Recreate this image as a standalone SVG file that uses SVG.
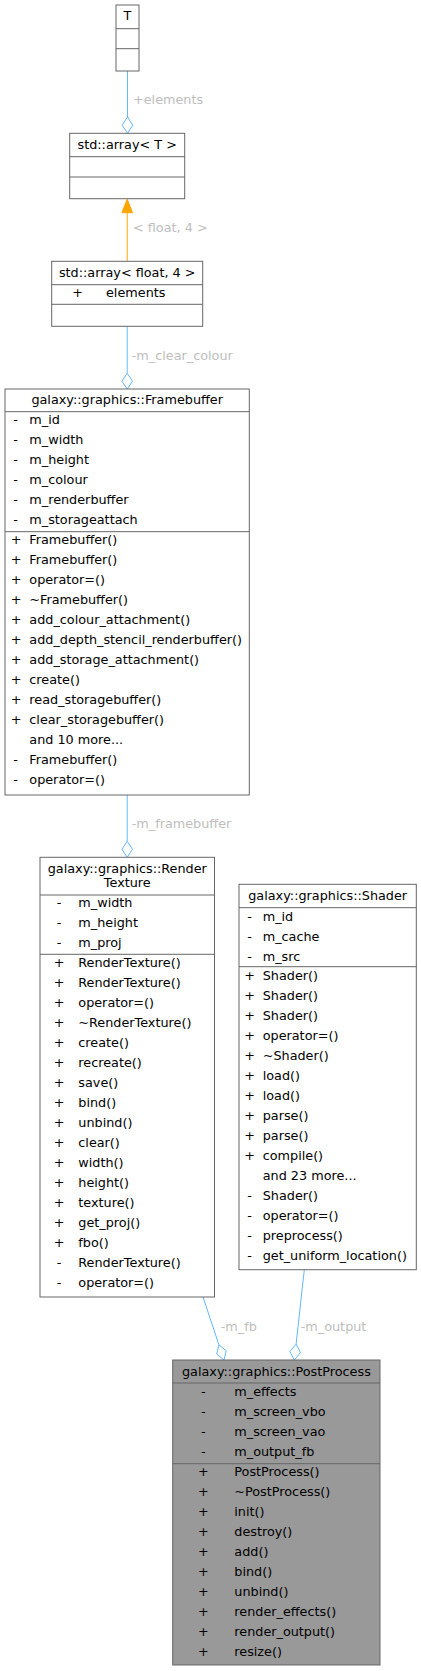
<svg xmlns="http://www.w3.org/2000/svg" width="421" height="1671" viewBox="0 0 421 1671">
<style>
text{font-family:"DejaVu Sans","Liberation Sans",sans-serif;font-size:12.8px;fill:#000}
.box{fill:#fff;stroke:#666;stroke-width:1}
.cur{fill:#999;stroke:#666;stroke-width:1}
.sep{stroke:#666;stroke-width:1}
.c{text-anchor:middle}
.lbl{fill:#bebebe}
.use{fill:none;stroke:#63b8ff;stroke-width:1}
.dia{fill:#fff;stroke:#63b8ff;stroke-width:1}
.inh{fill:none;stroke:#ffa500;stroke-width:1}
.tri{fill:#ffa500;stroke:#ffa500;stroke-width:1}
</style>
<rect width="421" height="1671" fill="#fff"/>
<g id="connectors">
<line class="use" x1="127.5" y1="71" x2="127.5" y2="117"/>
<polygon class="dia" points="127.5,133.3 122.2,125.2 127.5,117 132.8,125.2"/>
<text class="lbl" x="133" y="104.2">+elements</text>
<line class="inh" x1="127.2" y1="261.3" x2="127.2" y2="212.7"/>
<polygon class="tri" points="127.2,199.2 121.9,212.7 132.5,212.7"/>
<text class="lbl" x="133" y="232.2">&lt; float, 4 &gt;</text>
<line class="use" x1="127.2" y1="326.3" x2="127.2" y2="373.3"/>
<polygon class="dia" points="127.2,389 121.9,381.2 127.2,373.3 132.5,381.2"/>
<text class="lbl" x="131.7" y="360.2">-m_clear_colour</text>
<line class="use" x1="127.2" y1="795" x2="127.2" y2="841.3"/>
<polygon class="dia" points="127.2,857.3 121.9,849.3 127.2,841.3 132.5,849.3"/>
<text class="lbl" x="131.7" y="827.8">-m_framebuffer</text>
<line class="use" x1="203" y1="1297" x2="218.9" y2="1344.8"/>
<polygon class="dia" points="224,1360 216.7,1354 218.9,1344.8 226.2,1350.8"/>
<text class="lbl" x="220.7" y="1331.2">-m_fb</text>
<line class="use" x1="304.3" y1="1269.7" x2="296.1" y2="1344.1"/>
<polygon class="dia" points="294.3,1360 289.9,1351.5 296.1,1344.1 300.5,1352.6"/>
<text class="lbl" x="300.7" y="1331.2">-m_output</text>
</g>
<g id="node_T">
<rect class="box" x="116" y="5" width="23" height="66"/>
<line class="sep" x1="116" y1="28.7" x2="139" y2="28.7"/>
<line class="sep" x1="116" y1="48.7" x2="139" y2="48.7"/>
<text class="c" x="127.5" y="20.2">T</text>
</g>
<g id="node_array_T">
<rect class="box" x="69.7" y="133.3" width="115" height="65.4"/>
<line class="sep" x1="69.7" y1="156.7" x2="184.7" y2="156.7"/>
<line class="sep" x1="69.7" y1="177" x2="184.7" y2="177"/>
<text class="c" x="127.2" y="149.2">std::array&lt; T &gt;</text>
</g>
<g id="node_array_float4">
<rect class="box" x="51.7" y="261.3" width="151" height="65"/>
<line class="sep" x1="51.7" y1="284.7" x2="202.7" y2="284.7"/>
<line class="sep" x1="51.7" y1="304.3" x2="202.7" y2="304.3"/>
<text class="c" x="127.2" y="276.8">std::array&lt; float, 4 &gt;</text>
<text class="c" x="77.7" y="296.8">+</text>
<text x="106" y="296.8">elements</text>
</g>
<g id="node_Framebuffer">
<rect class="box" x="5" y="389" width="244.3" height="406"/>
<line class="sep" x1="5" y1="411.7" x2="249.3" y2="411.7"/>
<line class="sep" x1="5" y1="531.7" x2="249.3" y2="531.7"/>
<text class="c" x="127.2" y="404.2">galaxy::graphics::Framebuffer</text>
<text class="c" x="15.6" y="424.2">-</text>
<text class="c" x="15.6" y="444.2">-</text>
<text class="c" x="15.6" y="464.2">-</text>
<text class="c" x="15.6" y="484.2">-</text>
<text class="c" x="15.6" y="504.2">-</text>
<text class="c" x="15.6" y="524.2">-</text>
<text class="c" x="16" y="544.2">+</text>
<text class="c" x="16" y="564.2">+</text>
<text class="c" x="16" y="584.2">+</text>
<text class="c" x="16" y="604.2">+</text>
<text class="c" x="16" y="624.2">+</text>
<text class="c" x="16" y="644.2">+</text>
<text class="c" x="16" y="664.2">+</text>
<text class="c" x="16" y="684.2">+</text>
<text class="c" x="16" y="704.2">+</text>
<text class="c" x="16" y="724.2">+</text>
<text class="c" x="15.6" y="764.2">-</text>
<text class="c" x="15.6" y="784.2">-</text>
<text x="29.3" y="424.2">m_id</text>
<text x="29.3" y="444.2">m_width</text>
<text x="29.3" y="464.2">m_height</text>
<text x="29.3" y="484.2">m_colour</text>
<text x="29.3" y="504.2">m_renderbuffer</text>
<text x="29.3" y="524.2">m_storageattach</text>
<text x="29.3" y="544.2">Framebuffer()</text>
<text x="29.3" y="564.2">Framebuffer()</text>
<text x="29.3" y="584.2">operator=()</text>
<text x="29.3" y="604.2">~Framebuffer()</text>
<text x="29.3" y="624.2">add_colour_attachment()</text>
<text x="29.3" y="644.2">add_depth_stencil_renderbuffer()</text>
<text x="29.3" y="664.2">add_storage_attachment()</text>
<text x="29.3" y="684.2">create()</text>
<text x="29.3" y="704.2">read_storagebuffer()</text>
<text x="29.3" y="724.2">clear_storagebuffer()</text>
<text x="29.3" y="744.2">and 10 more...</text>
<text x="29.3" y="764.2">Framebuffer()</text>
<text x="29.3" y="784.2">operator=()</text>
</g>
<g id="node_RenderTexture">
<rect class="box" x="40" y="857.3" width="174.5" height="439.7"/>
<line class="sep" x1="40" y1="895" x2="214.5" y2="895"/>
<line class="sep" x1="40" y1="954.3" x2="214.5" y2="954.3"/>
<text class="c" x="127.3" y="872.5">galaxy::graphics::Render</text>
<text class="c" x="127.3" y="886.8">Texture</text>
<text class="c" x="59" y="906.8">-</text>
<text class="c" x="59" y="926.8">-</text>
<text class="c" x="59" y="946.8">-</text>
<text class="c" x="59" y="966.8">+</text>
<text class="c" x="59" y="986.8">+</text>
<text class="c" x="59" y="1006.8">+</text>
<text class="c" x="59" y="1026.8">+</text>
<text class="c" x="59" y="1046.8">+</text>
<text class="c" x="59" y="1066.8">+</text>
<text class="c" x="59" y="1086.8">+</text>
<text class="c" x="59" y="1106.8">+</text>
<text class="c" x="59" y="1126.8">+</text>
<text class="c" x="59" y="1146.8">+</text>
<text class="c" x="59" y="1166.8">+</text>
<text class="c" x="59" y="1186.8">+</text>
<text class="c" x="59" y="1206.8">+</text>
<text class="c" x="59" y="1226.8">+</text>
<text class="c" x="59" y="1246.8">+</text>
<text class="c" x="59" y="1266.8">-</text>
<text class="c" x="59" y="1286.8">-</text>
<text x="78.3" y="906.8">m_width</text>
<text x="78.3" y="926.8">m_height</text>
<text x="78.3" y="946.8">m_proj</text>
<text x="78.3" y="966.8">RenderTexture()</text>
<text x="78.3" y="986.8">RenderTexture()</text>
<text x="78.3" y="1006.8">operator=()</text>
<text x="78.3" y="1026.8">~RenderTexture()</text>
<text x="78.3" y="1046.8">create()</text>
<text x="78.3" y="1066.8">recreate()</text>
<text x="78.3" y="1086.8">save()</text>
<text x="78.3" y="1106.8">bind()</text>
<text x="78.3" y="1126.8">unbind()</text>
<text x="78.3" y="1146.8">clear()</text>
<text x="78.3" y="1166.8">width()</text>
<text x="78.3" y="1186.8">height()</text>
<text x="78.3" y="1206.8">texture()</text>
<text x="78.3" y="1226.8">get_proj()</text>
<text x="78.3" y="1246.8">fbo()</text>
<text x="78.3" y="1266.8">RenderTexture()</text>
<text x="78.3" y="1286.8">operator=()</text>
</g>
<g id="node_Shader">
<rect class="box" x="239" y="884.3" width="177.3" height="385.4"/>
<line class="sep" x1="239" y1="907.7" x2="416.3" y2="907.7"/>
<line class="sep" x1="239" y1="966.7" x2="416.3" y2="966.7"/>
<text class="c" x="327.7" y="900">galaxy::graphics::Shader</text>
<text class="c" x="249.5" y="920.8">-</text>
<text class="c" x="249.5" y="940.8">-</text>
<text class="c" x="249.5" y="960.8">-</text>
<text class="c" x="249.5" y="980.2">+</text>
<text class="c" x="249.5" y="1000.2">+</text>
<text class="c" x="249.5" y="1020.2">+</text>
<text class="c" x="249.5" y="1040.2">+</text>
<text class="c" x="249.5" y="1060.2">+</text>
<text class="c" x="249.5" y="1080.2">+</text>
<text class="c" x="249.5" y="1100.2">+</text>
<text class="c" x="249.5" y="1120.2">+</text>
<text class="c" x="249.5" y="1140.2">+</text>
<text class="c" x="249.5" y="1160.2">+</text>
<text class="c" x="249.5" y="1200.2">-</text>
<text class="c" x="249.5" y="1220.2">-</text>
<text class="c" x="249.5" y="1240.2">-</text>
<text class="c" x="249.5" y="1260.2">-</text>
<text x="262.7" y="920.8">m_id</text>
<text x="262.7" y="940.8">m_cache</text>
<text x="262.7" y="960.8">m_src</text>
<text x="262.7" y="980.2">Shader()</text>
<text x="262.7" y="1000.2">Shader()</text>
<text x="262.7" y="1020.2">Shader()</text>
<text x="262.7" y="1040.2">operator=()</text>
<text x="262.7" y="1060.2">~Shader()</text>
<text x="262.7" y="1080.2">load()</text>
<text x="262.7" y="1100.2">load()</text>
<text x="262.7" y="1120.2">parse()</text>
<text x="262.7" y="1140.2">parse()</text>
<text x="262.7" y="1160.2">compile()</text>
<text x="262.7" y="1180.2">and 23 more...</text>
<text x="262.7" y="1200.2">Shader()</text>
<text x="262.7" y="1220.2">operator=()</text>
<text x="262.7" y="1240.2">preprocess()</text>
<text x="262.7" y="1260.2">get_uniform_location()</text>
</g>
<g id="node_PostProcess">
<rect class="cur" x="172.7" y="1360" width="207.3" height="305"/>
<line class="sep" x1="172.7" y1="1383" x2="380" y2="1383"/>
<line class="sep" x1="172.7" y1="1463.7" x2="380" y2="1463.7"/>
<text class="c" x="276.4" y="1375.8">galaxy::graphics::PostProcess</text>
<text class="c" x="203.3" y="1395.8">-</text>
<text class="c" x="203.3" y="1415.8">-</text>
<text class="c" x="203.3" y="1435.8">-</text>
<text class="c" x="203.3" y="1455.8">-</text>
<text class="c" x="203.3" y="1475.8">+</text>
<text class="c" x="203.3" y="1495.8">+</text>
<text class="c" x="203.3" y="1515.8">+</text>
<text class="c" x="203.3" y="1535.8">+</text>
<text class="c" x="203.3" y="1555.8">+</text>
<text class="c" x="203.3" y="1575.8">+</text>
<text class="c" x="203.3" y="1595.8">+</text>
<text class="c" x="203.3" y="1615.8">+</text>
<text class="c" x="203.3" y="1635.8">+</text>
<text class="c" x="203.3" y="1655.8">+</text>
<text x="234.3" y="1395.8">m_effects</text>
<text x="234.3" y="1415.8">m_screen_vbo</text>
<text x="234.3" y="1435.8">m_screen_vao</text>
<text x="234.3" y="1455.8">m_output_fb</text>
<text x="234.3" y="1475.8">PostProcess()</text>
<text x="234.3" y="1495.8">~PostProcess()</text>
<text x="234.3" y="1515.8">init()</text>
<text x="234.3" y="1535.8">destroy()</text>
<text x="234.3" y="1555.8">add()</text>
<text x="234.3" y="1575.8">bind()</text>
<text x="234.3" y="1595.8">unbind()</text>
<text x="234.3" y="1615.8">render_effects()</text>
<text x="234.3" y="1635.8">render_output()</text>
<text x="234.3" y="1655.8">resize()</text>
</g>
</svg>
